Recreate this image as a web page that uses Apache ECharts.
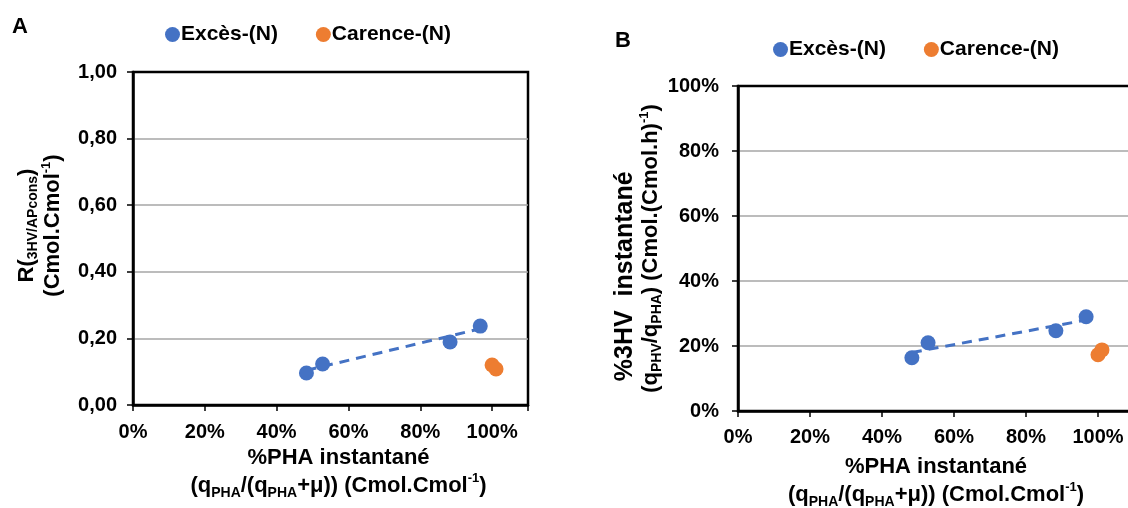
<!DOCTYPE html>
<html>
<head>
<meta charset="utf-8">
<title>%PHA instantané</title>
<script src="https://cdn.jsdelivr.net/npm/echarts@6/dist/echarts.min.js"></script>
<style>
  html, body { margin: 0; padding: 0; background: #fff; }
  #chart { width: 1128px; height: 508px; }
</style>
</head>
<body>
<div id="chart"></div>
<script>
// données
var seriesNames = ["Excès-(N)", "Carence-(N)"];
var excesX = [0.483, 0.528, 0.883, 0.967];      // %PHA instantané
var excesR = [0.096, 0.123, 0.189, 0.237];      // panneau A
var excesHV = [0.164, 0.210, 0.247, 0.290];     // panneau B
var carenceX = [1.000, 1.011];
var carenceR = [0.120, 0.108];
var carenceHV = [0.173, 0.188];
var trendX = [0.483, 0.967];                    // courbe de tendance (pointillés)
var trendR = [0.104, 0.229];
var trendHV = [0.180, 0.280];

var blue = "#4472C4";
var orange = "#ED7D31";
var font = "Liberation Sans, Arial, sans-serif";

function pairs(xs, ys) {
    var arr = [];
    for (var i = 0; i < xs.length; i++) {
        arr.push([xs[i], ys[i]]);
    }
    return arr;
}

// styles texte enrichi (indices / exposants)
function richOf(lh) {
    return {
        t: { fontFamily: font, fontSize: 22, fontWeight: "bold", color: "#000", lineHeight: lh },
        u: { fontFamily: font, fontSize: 25, fontWeight: "bold", color: "#000", lineHeight: lh },
        s: { fontFamily: font, fontSize: 14, fontWeight: "bold", color: "#000", lineHeight: 20, verticalAlign: "bottom" },
        p: { fontFamily: font, fontSize: 13, fontWeight: "bold", color: "#000", lineHeight: 14, verticalAlign: "top" }
    };
}

var xName = "{t|%PHA instantané}\n{t|(q}{s|PHA}{t|/(q}{s|PHA}{t|+μ)) (Cmol.Cmol}{p|-1}{t|)}";

function pct(v) {
    if (v > 1.0001) return "";
    return Math.round(v * 100) + "%";
}

function xAxisOf(idx, gap, padLeft, margin) {
    return {
        type: "value", gridIndex: idx, min: 0, max: 1.1, interval: 0.2,
        axisLine: { show: true, lineStyle: { color: "#000", width: 2.5 } },
        axisTick: { show: true, inside: false, length: 6, lineStyle: { color: "#000", width: 1.5 } },
        splitLine: { show: false },
        axisLabel: { formatter: pct, margin: margin, color: "#000", fontSize: 20, fontWeight: "bold", fontFamily: font },
        name: xName, nameLocation: "middle", nameGap: gap,
        nameTextStyle: { rich: richOf(28), padding: [0, 0, 0, padLeft] }
    };
}

function yAxisOf(idx, fmt, name, gap, pad, margin) {
    return {
        type: "value", gridIndex: idx, min: 0, max: 1, interval: 0.2,
        axisLine: { show: true, lineStyle: { color: "#000", width: 2.5 } },
        axisTick: { show: true, inside: false, length: 6, lineStyle: { color: "#000", width: 1.5 } },
        splitLine: { show: true, showMinLine: false, showMaxLine: false, lineStyle: { color: "#a6a6a6", width: 1.5 } },
        axisLabel: { formatter: fmt, margin: margin, color: "#000", fontSize: 20, fontWeight: "bold", fontFamily: font },
        name: name, nameLocation: "middle", nameRotate: 90, nameGap: gap,
        nameTextStyle: { rich: richOf(26), padding: pad }
    };
}

function legendOf(left, top) {
    return {
        data: seriesNames, left: left, top: top, icon: "circle",
        itemWidth: 15, itemHeight: 15, itemGap: 38,
        textStyle: { color: "#000", fontSize: 21, fontWeight: "bold", fontFamily: font, padding: [0, 0, 0, -4] }
    };
}

var chart = echarts.init(document.getElementById("chart"), null, { renderer: "canvas" });

var option = {
    animation: false,
    backgroundColor: "#fff",
    legend: [legendOf(160, 19), legendOf(768, 34)],
    grid: [
        { left: 133, top: 72, width: 395, height: 333, show: true, borderColor: "#000", borderWidth: 2.5,
          outerBoundsMode: "none" },
        { left: 738, top: 86, width: 396, height: 325, show: true, borderColor: "#000", borderWidth: 2.5,
          outerBoundsMode: "none" }
    ],
    xAxis: [xAxisOf(0, 39, 16, 17), xAxisOf(1, 42, 0, 16)],
    yAxis: [
        yAxisOf(0, function(v) { return v.toFixed(2).replace(".", ","); },
            "{t|R(}{s|3HV/APcons}{t|)}\n{t|(Cmol.Cmol}{p|-1}{t|)}", 67, [0, 0, 0, 26], 16),
        yAxisOf(1, pct,
            "{u|%3HV  instantané        }\n{t|(q}{s|PHV}{t|/q}{s|PHA}{t|) (Cmol.(Cmol.h)}{p|-1}{t|)}", 74, [0, 0, 0, 0], 19)
    ],
    graphic: [
        { type: "text", left: 12, top: 16, style: { text: "A", font: "bold 22px " + font, fill: "#000" } },
        { type: "text", left: 615, top: 30, style: { text: "B", font: "bold 22px " + font, fill: "#000" } }
    ],
    series: [
        { type: "line", xAxisIndex: 0, yAxisIndex: 0, data: pairs(trendX, trendR), symbol: "none", silent: true, z: 1,
          lineStyle: { color: blue, width: 3, type: [10, 7] } },
        { type: "line", xAxisIndex: 1, yAxisIndex: 1, data: pairs(trendX, trendHV), symbol: "none", silent: true, z: 1,
          lineStyle: { color: blue, width: 3, type: [10, 7] } },
        { name: seriesNames[0], type: "scatter", xAxisIndex: 0, yAxisIndex: 0, data: pairs(excesX, excesR),
          symbolSize: 15, z: 3, itemStyle: { color: blue, opacity: 1 } },
        { name: seriesNames[1], type: "scatter", xAxisIndex: 0, yAxisIndex: 0, data: pairs(carenceX, carenceR),
          symbolSize: 15, z: 3, itemStyle: { color: orange, opacity: 1 } },
        { name: seriesNames[0], type: "scatter", xAxisIndex: 1, yAxisIndex: 1, data: pairs(excesX, excesHV),
          symbolSize: 15, z: 3, itemStyle: { color: blue, opacity: 1 } },
        { name: seriesNames[1], type: "scatter", xAxisIndex: 1, yAxisIndex: 1, data: pairs(carenceX, carenceHV),
          symbolSize: 15, z: 3, itemStyle: { color: orange, opacity: 1 } }
    ]
};

chart.setOption(option);
</script>
</body>
</html>
